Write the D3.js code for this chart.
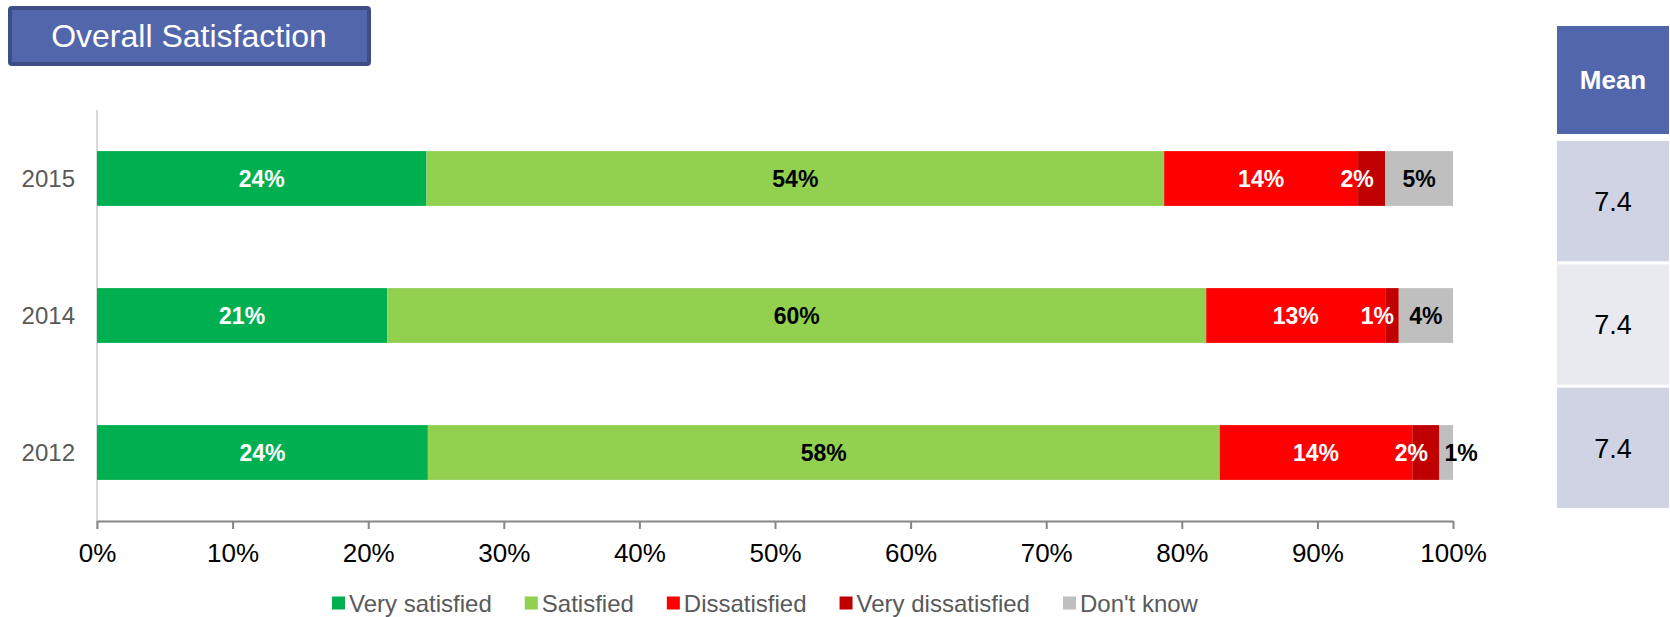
<!DOCTYPE html>
<html>
<head>
<meta charset="utf-8">
<script src="https://cdn.jsdelivr.net/npm/d3@7"></script>
<style>
  html, body { margin: 0; padding: 0; background: #fff; }
  svg { display: block; font-family: "Liberation Sans", Arial, Helvetica, sans-serif; }
</style>
</head>
<body>
<svg id="chart" width="1670" height="617"></svg>
<script>
// Survey years, top to bottom
const years = ["2015", "2014", "2012"];

// Response categories (stack order, left to right)
const categories = ["Very satisfied", "Satisfied", "Dissatisfied", "Very dissatisfied", "Don't know"];

// Share of respondents (%) per category, one array per category, aligned with years
const verySatisfied    = [24.3, 21.4, 24.4];
const satisfied        = [54.4, 60.4, 58.4];
const dissatisfied     = [14.3, 13.2, 14.2];
const veryDissatisfied = [2.0, 1.0, 2.0];
const dontKnow         = [5.0, 4.0, 1.0];

// Mean satisfaction score per year
const means = [7.4, 7.4, 7.4];

// Axis ticks
const xTicks = [0, 10, 20, 30, 40, 50, 60, 70, 80, 90, 100];

const title = "Overall Satisfaction";
const meanHeader = "Mean";

const colors = ["#00B050", "#92D050", "#FF0000", "#C00000", "#BFBFBF"];
const labelColors = ["#fff", "#000", "#fff", "#fff", "#000"];

const series = [verySatisfied, satisfied, dissatisfied, veryDissatisfied, dontKnow];
const rows = years.map((yr, i) => {
  const r = { year: yr };
  categories.forEach((c, k) => { r[c] = series[k][i]; });
  return r;
});
const stacked = d3.stack().keys(categories)(rows);

const svg = d3.select("#chart");
const FONT = "\"Liberation Sans\", Arial, sans-serif";

// ---- Title box ----
const tg = svg.append("g");
tg.append("rect")
  .attr("x", 10).attr("y", 8).attr("width", 359).attr("height", 56)
  .attr("rx", 2)
  .attr("fill", "#5266AC").attr("stroke", "#3D4D88").attr("stroke-width", 4);
tg.append("text")
  .attr("x", 189).attr("y", 47)
  .attr("text-anchor", "middle")
  .attr("fill", "#fff")
  .attr("font-size", 32)
  .text(title);

// ---- Plot ----
const plotLeft = 97, plotRight = 1453, plotTop = 110, plotBottom = 521;
const x = d3.scaleLinear().domain([0, 100]).range([plotLeft, plotRight]);
const y = d3.scaleBand().domain(years).range([plotTop, plotBottom]).paddingInner(0.6).paddingOuter(0.3);

// vertical category axis line
svg.append("line")
  .attr("x1", plotLeft).attr("x2", plotLeft).attr("y1", plotTop).attr("y2", plotBottom + 8)
  .attr("stroke", "#D9D9D9").attr("stroke-width", 2);

// bars
const layers = svg.append("g").selectAll("g").data(stacked).join("g")
  .attr("fill", (d, i) => colors[i]);
layers.selectAll("rect").data(d => d).join("rect")
  .attr("x", d => x(d[0]))
  .attr("y", d => y(d.data.year))
  .attr("width", d => x(d[1]) - x(d[0]))
  .attr("height", y.bandwidth());

// value labels: centred when they fit, otherwise nudged beside the segment
const fmt = d3.format(".0f");
const labelG = svg.append("g")
  .attr("font-weight", "bold").attr("font-size", 23);
stacked.forEach((layer, k) => {
  layer.forEach(d => {
    const x0 = x(d[0]), x1 = x(d[1]);
    const t = labelG.append("text")
      .attr("y", y(d.data.year) + y.bandwidth() / 2)
      .attr("dy", "0.36em")
      .attr("fill", labelColors[k])
      .text(fmt(d[1] - d[0]) + "%");
    const w = t.node().getComputedTextLength();
    if (w + 4 <= x1 - x0) {
      t.attr("x", (x0 + x1) / 2).attr("text-anchor", "middle");
    } else if (k === stacked.length - 1) {
      t.attr("x", x0 + 5).attr("text-anchor", "start");
    } else {
      t.attr("x", (x0 + x1) / 2 + 2).attr("text-anchor", "end");
    }
  });
});

// year labels
svg.append("g").selectAll("text").data(years).join("text")
  .attr("x", 75)
  .attr("y", d => y(d) + y.bandwidth() / 2)
  .attr("dy", "0.36em")
  .attr("text-anchor", "end")
  .attr("fill", "#595959")
  .attr("font-size", 24)
  .text(d => d);

// x axis
const xAxis = d3.axisBottom(x)
  .tickValues(xTicks)
  .tickFormat(d => d + "%")
  .tickSize(8)
  .tickSizeOuter(0)
  .tickPadding(15);
const ax = svg.append("g").attr("transform", `translate(0,${plotBottom})`).call(xAxis);
ax.select(".domain").attr("stroke", "#868686").attr("stroke-width", 2);
ax.selectAll(".tick line").attr("stroke", "#868686").attr("stroke-width", 2);
ax.selectAll(".tick text")
  .attr("font-family", FONT)
  .attr("font-size", 26)
  .attr("fill", "#000");

// ---- Legend ----
const legend = svg.append("g").attr("font-size", 24).attr("fill", "#595959");
let cx = 0;
const items = [];
categories.forEach((c, i) => {
  const g = legend.append("g");
  g.append("rect").attr("x", 0).attr("y", -6.5).attr("width", 13).attr("height", 13).attr("fill", colors[i]);
  const t = g.append("text").attr("x", 17).attr("dy", "0.36em").text(c);
  const w = 17 + t.node().getComputedTextLength();
  items.push({ g, offset: cx });
  cx += w + (i < categories.length - 1 ? 33 : 0);
});
const legendStart = 765 - cx / 2;
items.forEach(it => it.g.attr("transform", `translate(${legendStart + it.offset},603)`));

// ---- Mean table ----
const tableX = 1557, tableW = 112;
svg.append("rect")
  .attr("x", tableX).attr("y", 26).attr("width", tableW).attr("height", 108)
  .attr("fill", "#5266AC");
svg.append("text")
  .attr("x", tableX + tableW / 2).attr("y", 80)
  .attr("dy", "0.36em")
  .attr("text-anchor", "middle")
  .attr("fill", "#fff").attr("font-weight", "bold").attr("font-size", 26)
  .text(meanHeader);

const rowScale = d3.scaleBand().domain(years).range([141, 508]).paddingInner(0.025);
const cells = svg.append("g").selectAll("g").data(years).join("g");
cells.append("rect")
  .attr("x", tableX).attr("width", tableW)
  .attr("y", d => rowScale(d)).attr("height", rowScale.bandwidth())
  .attr("fill", (d, i) => i % 2 === 0 ? "#D0D3E3" : "#E9EAF0");
cells.append("text")
  .attr("x", tableX + tableW / 2)
  .attr("y", d => rowScale(d) + rowScale.bandwidth() / 2)
  .attr("dy", "0.36em")
  .attr("text-anchor", "middle")
  .attr("fill", "#000").attr("font-size", 27)
  .text((d, i) => d3.format(".1f")(means[i]));
</script>
</body>
</html>
